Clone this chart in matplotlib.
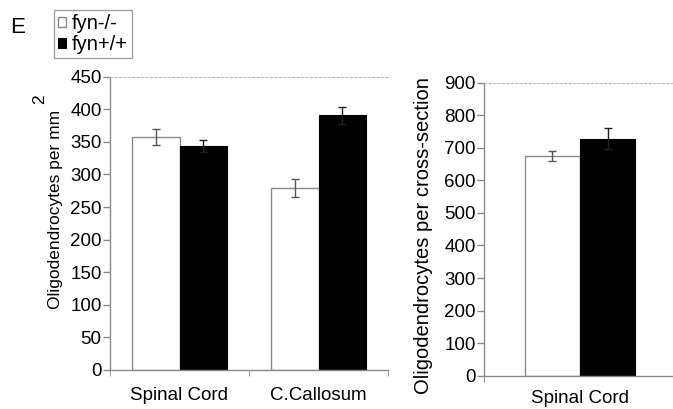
import numpy as np
import matplotlib
matplotlib.use('Agg')
import matplotlib.pyplot as plt

plt.rcParams['font.family'] = ['Liberation Sans', 'DejaVu Sans']

# datos
categorias = ['Spinal Cord', 'C.Callosum']
ko_area = [357, 279]
ko_area_err = [12, 14]
wt_area = [344, 391]
wt_area_err = [9, 13]

categorias_sec = ['Spinal Cord']
ko_sec = [674]
ko_sec_err = [16]
wt_sec = [728]
wt_sec_err = [33]

etiquetas = ['fyn-/-', 'fyn+/+']

gris = '#8a8a8a'

fig = plt.figure(figsize=(6.73, 4.09), dpi=100)
ax1 = fig.add_axes([110/673, 1-370/409, 278/673, 293.3/409])
ax2 = fig.add_axes([484/673, 1-375.7/409, 192/673, 293/409])


def debuxa(ax, cats, ko, ko_err, wt, wt_err, w, ymax, paso, pad):
    x = np.arange(len(cats))
    b1 = ax.bar(x - w/2, ko, w, color='white', edgecolor=gris, linewidth=1.0, zorder=2)
    b2 = ax.bar(x + w/2, wt, w, color='black', edgecolor='black', linewidth=0.8, zorder=2)
    ax.errorbar(x - w/2, ko, yerr=ko_err, fmt='none', ecolor='#555555',
                elinewidth=1.0, capsize=3, capthick=1.0, zorder=3)
    ax.errorbar(x + w/2, wt, yerr=wt_err, fmt='none', ecolor='#222222',
                elinewidth=1.0, capsize=3, capthick=1.0, zorder=3)
    ax.set_xlim(-0.5, len(cats) - 0.5)
    ax.set_ylim(0, ymax)
    ax.set_yticks(np.arange(0, ymax + 1, paso))
    ax.set_xticks(x)
    ax.set_xticklabels(cats, fontsize=13.5)
    ax.set_xticks(np.arange(-0.5, len(cats), 1.0), minor=True)
    ax.tick_params(axis='x', which='major', length=0, pad=pad)
    ax.tick_params(axis='x', which='minor', length=4, color=gris, direction='out')
    ax.tick_params(axis='y', length=5, color=gris, width=1, pad=1, labelsize=13.5)
    for s in ['left', 'bottom']:
        ax.spines[s].set_color(gris)
        ax.spines[s].set_linewidth(1.0)
    ax.spines['right'].set_visible(False)
    ax.spines['top'].set_color('#bbbbbb')
    ax.spines['top'].set_linestyle((0, (2, 2)))
    ax.spines['top'].set_linewidth(0.8)
    return b1, b2


b1, b2 = debuxa(ax1, categorias, ko_area, ko_area_err, wt_area, wt_area_err,
                0.342, 450, 50, 12.5)
debuxa(ax2, categorias_sec, ko_sec, ko_sec_err, wt_sec, wt_sec_err,
       0.287, 900, 100, 10.5)

ax1.set_ylabel('Oligodendrocytes per mm', fontsize=12.5)
ax1.yaxis.set_label_coords(-0.169, 0.549)
fig.text(40/673, 1-99/409, '2', rotation=90, fontsize=12.5, ha='center', va='center')
ax2.set_ylabel('Oligodendrocytes per cross-section', fontsize=14.5)
ax2.yaxis.set_label_coords(-0.266, 0.477)

leg = fig.legend([b1, b2], etiquetas, loc='upper left',
                 bbox_to_anchor=(54/673, 1-10/409), fontsize=14.5,
                 frameon=True, fancybox=False, handlelength=0.42, handleheight=0.42,
                 handletextpad=0.25, borderpad=0.2, labelspacing=0.12,
                 borderaxespad=0)
leg.get_frame().set_edgecolor(gris)
leg.get_frame().set_linewidth(1.0)

fig.text(10/673, 1-33/409, 'E', fontsize=16, ha='left', va='baseline')

fig.savefig('out.png', dpi=100)
